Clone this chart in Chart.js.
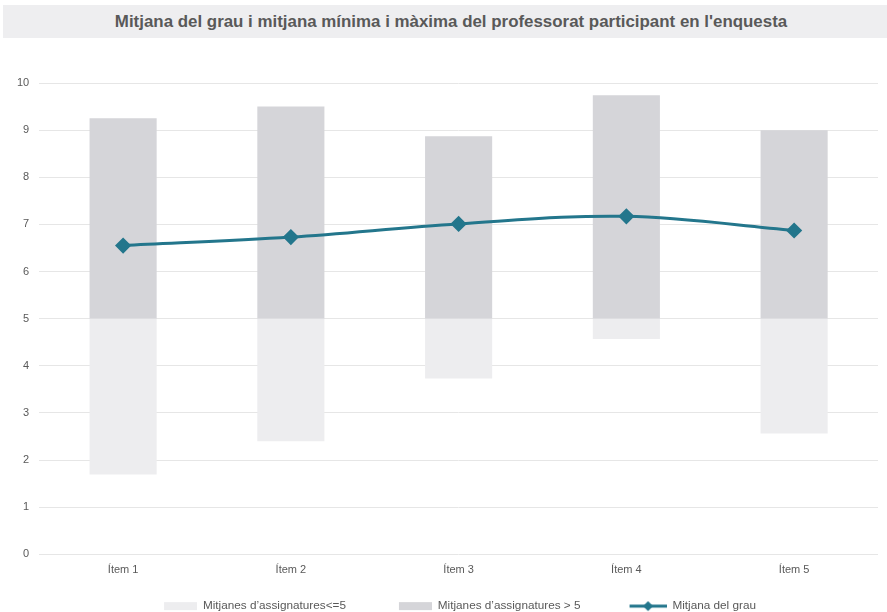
<!DOCTYPE html>
<html>
<head>
<meta charset="utf-8">
<script src="https://cdn.jsdelivr.net/npm/chart.js@4"></script>
<style>
  html, body { margin: 0; padding: 0; background: #fff; overflow: hidden; }
  #wrap { position: absolute; left: 0; top: 0; width: 887px; height: 622px; }
  #title {
    position: absolute; left: 3px; top: 5px; width: 872px; height: 33px; padding-left: 12px;
    background: #eeeef0; color: #595959; z-index: 2;
    font: bold 16.9px "Liberation Sans", Arial, sans-serif;
    text-align: center; line-height: 33px;
  }
</style>
</head>
<body>
<div id="wrap">
  <div id="title">Mitjana del grau i mitjana mínima i màxima del professorat participant en l'enquesta</div>
  <canvas id="chart"></canvas>
</div>
<script>
const categories = ['Ítem 1', 'Ítem 2', 'Ítem 3', 'Ítem 4', 'Ítem 5'];
const minValues = [1.69, 2.40, 3.73, 4.57, 2.56];
const maxValues = [9.25, 9.50, 8.87, 9.74, 9.00];
const meanValues = [6.55, 6.73, 7.01, 7.17, 6.87];
const threshold = 5;
const yTicks = [0, 1, 2, 3, 4, 5, 6, 7, 8, 9, 10];

const lightGrey = '#ededef';
const darkGrey = '#d5d5d9';
const teal = '#23768c';

// legend swatches: 33px of blank space on the left, then the box / line marker
function swatch(kind, color) {
    const c = document.createElement('canvas');
    c.width = 66; c.height = 14;
    const g = c.getContext('2d');
    if (kind === 'box') {
        g.fillStyle = color;
        g.fillRect(33, 3, 33, 8);
    } else {
        g.strokeStyle = color;
        g.lineWidth = 3;
        g.beginPath(); g.moveTo(29, 7); g.lineTo(66, 7); g.stroke();
        g.fillStyle = color;
        g.beginPath(); g.moveTo(47.5, 2); g.lineTo(52.5, 7); g.lineTo(47.5, 12); g.lineTo(42.5, 7); g.closePath(); g.fill();
    }
    return c;
}

const font = { family: '"Liberation Sans", Arial, sans-serif', size: 11 };

new Chart(document.getElementById('chart'), {
    data: {
        labels: categories,
        datasets: [{
            type: 'line',
            label: 'Mitjana del grau',
            data: meanValues,
            borderColor: teal,
            backgroundColor: teal,
            borderWidth: 3,
            tension: 0.35,
            pointStyle: 'rectRot',
            pointRadius: 6,
            pointHoverRadius: 6,
            order: 0
        }, {
            type: 'bar',
            label: 'Mitjanes d’assignatures<=5',
            data: minValues.map(v => [v, threshold]),
            backgroundColor: lightGrey,
            categoryPercentage: 1,
            barPercentage: 0.4,
            order: 1
        }, {
            type: 'bar',
            label: 'Mitjanes d’assignatures > 5',
            data: maxValues.map(v => [threshold, v]),
            backgroundColor: darkGrey,
            categoryPercentage: 1,
            barPercentage: 0.4,
            order: 1
        }]
    },
    options: {
        responsive: true,
        maintainAspectRatio: false,
        animation: false,
        layout: { padding: { top: 83, left: 7, right: 7, bottom: 0 } },
        scales: {
            x: {
                stacked: true,
                grid: { display: false, drawTicks: false },
                border: { display: false },
                ticks: { color: '#595959', font: font, padding: 9 },
                afterFit: s => { s.height = 26; }
            },
            y: {
                stacked: false,
                min: 0,
                max: 10,
                afterBuildTicks: s => { s.ticks = yTicks.map(v => ({ value: v })); },
                grid: { color: '#e6e6e6', drawTicks: false },
                border: { display: false },
                ticks: { color: '#595959', font: font, padding: 10 }
            }
        },
        plugins: {
            tooltip: { enabled: false },
            legend: {
                position: 'bottom',
                labels: {
                    color: '#595959',
                    font: { family: font.family, size: 11.75 },
                    usePointStyle: true,
                    pointStyleWidth: 66,
                    padding: 20,
                    generateLabels: chart => [1, 2, 0].map(i => {
                        const ds = chart.data.datasets[i];
                        return {
                            text: ds.label,
                            datasetIndex: i,
                            fontColor: '#595959',
                            pointStyle: i === 0 ? swatch('line', teal) : swatch('box', ds.backgroundColor),
                            lineWidth: 0,
                            hidden: false
                        };
                    })
                }
            }
        }
    }
});
</script>
</body>
</html>
